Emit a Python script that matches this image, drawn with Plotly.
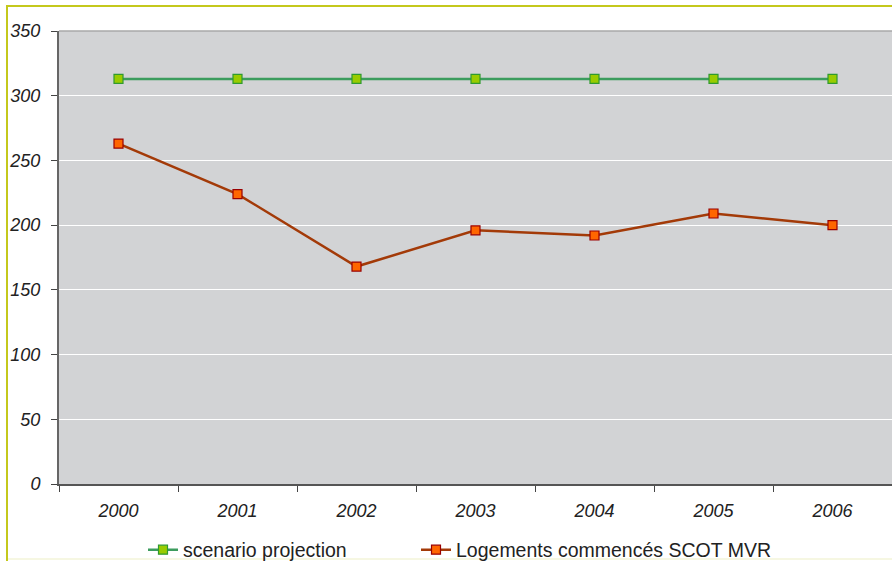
import plotly.graph_objects as go

years = ["2000", "2001", "2002", "2003", "2004", "2005", "2006"]
scenario_projection = [313, 313, 313, 313, 313, 313, 313]
logements_commences = [263, 224, 168, 196, 192, 209, 200]
y_ticks = [0, 50, 100, 150, 200, 250, 300, 350]

W, H = 892, 561
L, R, T, B = 59, 0, 31, 77
pw, ph = W - L - R, H - T - B

def px_x(p):
    return (p - L) / pw

def px_y(p):
    return (H - B - p) / ph

fig = go.Figure()
fig.add_trace(go.Scatter(
    x=years, y=scenario_projection, name="scenario projection",
    mode="lines+markers", legend="legend",
    line=dict(color="#3c9c5e", width=2.5),
    marker=dict(symbol="square", size=9, color="#99cc00",
                line=dict(color="#2f9a2f", width=1.2)),
))
fig.add_trace(go.Scatter(
    x=years, y=logements_commences, name="Logements commencés SCOT MVR",
    mode="lines+markers", legend="legend2",
    line=dict(color="#a33a08", width=2.5),
    marker=dict(symbol="square", size=9, color="#ff6600",
                line=dict(color="#990000", width=1.2)),
))

font_family = "Liberation Sans, Arial, sans-serif"

# outer frame lines (left, top, faint bottom)
fig.add_shape(type="line", xref="paper", yref="paper",
              x0=px_x(7), x1=px_x(7), y0=px_y(5), y1=px_y(561),
              line=dict(color="#c4c81c", width=2))
fig.add_shape(type="line", xref="paper", yref="paper",
              x0=px_x(6), x1=px_x(892), y0=px_y(6), y1=px_y(6),
              line=dict(color="#c4c81c", width=2))
fig.add_shape(type="line", xref="paper", yref="paper",
              x0=px_x(8), x1=px_x(892), y0=px_y(559), y1=px_y(559),
              line=dict(color="#f3f5d8", width=1.5))
# top edge of the plot area
fig.add_shape(type="line", xref="paper", yref="paper",
              x0=0, x1=1, y0=1, y1=1,
              line=dict(color="#a8a8a8", width=1.5))

tick_font = dict(size=18, family=font_family, style="italic", color="#222222")
legend_font = dict(size=19.5, family=font_family, color="#222222")


def legend_box(x_px):
    return dict(orientation="h", xref="container", yref="container",
                x=x_px / W, xanchor="left",
                y=(H - 550) / H, yanchor="middle",
                font=legend_font, bgcolor="rgba(0,0,0,0)", itemwidth=30)


fig.update_layout(
    width=W, height=H,
    margin=dict(l=L, r=R, t=T, b=B, autoexpand=False),
    paper_bgcolor="white",
    plot_bgcolor="#d2d3d5",
    font=dict(family=font_family, color="#222222"),
    showlegend=True,
    legend=legend_box(143),
    legend2=legend_box(416),
    xaxis=dict(
        type="category", range=[-0.5, 6.5], automargin=False,
        tickson="boundaries", ticks="outside", ticklen=6, tickcolor="#444444",
        showgrid=False, showline=True, linecolor="#555555", linewidth=1.5,
        tickfont=tick_font,
        ticklabelstandoff=10,
    ),
    yaxis=dict(
        range=[0, 350], tickvals=y_ticks, ticks="outside", ticklen=6,
        tickcolor="#444444", automargin=False,
        showgrid=True, gridcolor="#ffffff", gridwidth=1,
        showline=True, linecolor="#666666", linewidth=2,
        zeroline=False,
        tickfont=tick_font,
        ticklabelstandoff=7,
    ),
)

fig.write_html("out.html")
